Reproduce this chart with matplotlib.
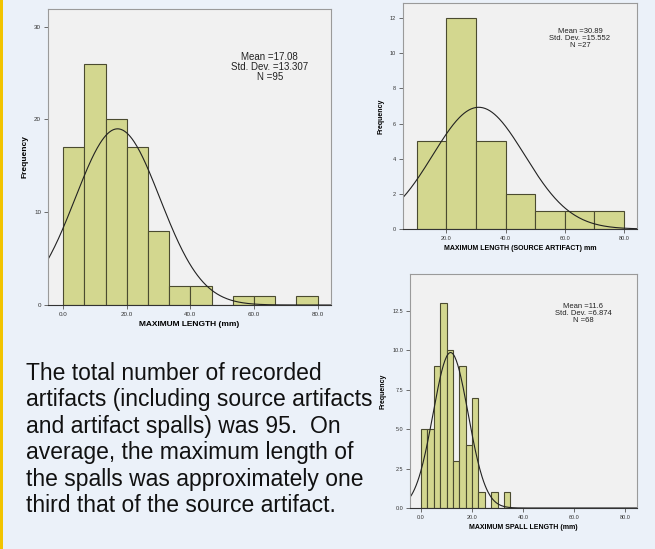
import numpy as np
import matplotlib
matplotlib.use("Agg")
import matplotlib.pyplot as plt
from matplotlib.patches import Rectangle

plt.rcParams['font.family'] = ['Liberation Sans', 'DejaVu Sans']

# --- data ---
# source + spalls, all artifacts
all_counts = [17, 26, 20, 17, 8, 2, 2, 0, 1, 1, 0, 1]
all_start, all_width = 0.0, 20.0 / 3
all_stats = (17.08, 13.307, 95)
all_xticks = [0, 20, 40, 60, 80]
all_xlabels = ["0.0", "20.0", "40.0", "60.0", "80.0"]
all_yticks = [0, 10, 20, 30]
all_ylabels = ["0", "10", "20", "30"]

# source artifacts
src_counts = [5, 12, 5, 2, 1, 1, 1]
src_start, src_width = 10.0, 10.0
src_stats = (30.89, 15.552, 27)
src_xticks = [20, 40, 60, 80]
src_xlabels = ["20.0", "40.0", "60.0", "80.0"]
src_yticks = [0, 2, 4, 6, 8, 10, 12]
src_ylabels = ["0", "2", "4", "6", "8", "10", "12"]

# spalls
spl_counts = [5, 5, 9, 13, 10, 3, 9, 4, 7, 1, 0, 1, 0, 1]
spl_start, spl_width = 0.0, 2.5
spl_stats = (11.6, 6.874, 68)
spl_xticks = [0, 20, 40, 60, 80]
spl_xlabels = ["0.0", "20.0", "40.0", "60.0", "80.0"]
spl_yticks = [0, 2.5, 5, 7.5, 10, 12.5]
spl_ylabels = ["0.0", "2.5", "5.0", "7.5", "10.0", "12.5"]

body_text = ("The total number of recorded\n"
             "artifacts (including source artifacts\n"
             "and artifact spalls) was 95.  On\n"
             "average, the maximum length of\n"
             "the spalls was approximately one\n"
             "third that of the source artifact.")

W, H = 655, 549
fig = plt.figure(figsize=(W / 100, H / 100), dpi=100)
fig.patch.set_facecolor('#ebf1f9')

# gold strip on the left edge of the slide
fig.patches.append(Rectangle((0, 0), 3 / W, 1, transform=fig.transFigure,
                             facecolor='#f2c400', edgecolor='none'))


def px_axes(left, top, right, bottom):
    return fig.add_axes([left / W, 1 - bottom / H, (right - left) / W, (bottom - top) / H])


def histo(ax, counts, start, width, stats, xlim, ylim, xticks, xlabels,
          yticks, ylabels, xlabel, tick_fs, lab_fs, ann_fs, ann_xy):
    ax.set_facecolor('#f1f1f1')
    edges = start + width * np.arange(len(counts))
    ax.bar(edges, counts, width=width, align='edge', color='#d3d78f',
           edgecolor='#4b4b30', linewidth=0.8)
    mean, sd, n = stats
    xs = np.linspace(xlim[0], xlim[1], 300)
    ys = n * width / (sd * np.sqrt(2 * np.pi)) * np.exp(-0.5 * ((xs - mean) / sd) ** 2)
    ax.plot(xs, ys, color='#222222', linewidth=0.8)
    ax.set_xlim(*xlim)
    ax.set_ylim(*ylim)
    ax.set_xticks(xticks)
    ax.set_xticklabels(xlabels, fontsize=tick_fs, color='#333333')
    ax.set_yticks(yticks)
    ax.set_yticklabels(ylabels, fontsize=tick_fs, color='#333333')
    ax.tick_params(length=3, width=0.6, pad=2, color='#555555')
    for s in ax.spines.values():
        s.set_color('#9a9a9a')
        s.set_linewidth(0.8)
    ax.spines['bottom'].set_color('#333333')
    ax.set_xlabel(xlabel, fontsize=lab_fs, fontweight='bold', labelpad=3)
    ax.set_ylabel("Frequency", fontsize=lab_fs, fontweight='bold', labelpad=4)
    ax.text(ann_xy[0], ann_xy[1],
            "Mean =%s\nStd. Dev. =%s\nN =%d" % (str(mean), str(sd), n),
            transform=ax.transAxes, ha='center', va='top', fontsize=ann_fs,
            color='#222222', linespacing=1.0)


ax1 = px_axes(48, 9, 331, 305)
histo(ax1, all_counts, all_start, all_width, all_stats, (-4.8, 84.2), (0, 31.9),
      all_xticks, all_xlabels, all_yticks, all_ylabels, "MAXIMUM LENGTH (mm)",
      4.5, 6, 7, (0.784, 0.855))

ax2 = px_axes(403, 3, 637, 229)
histo(ax2, src_counts, src_start, src_width, src_stats, (5.3, 84.4), (0, 12.86),
      src_xticks, src_xlabels, src_yticks, src_ylabels,
      "MAXIMUM LENGTH (SOURCE ARTIFACT) mm", 4, 5, 5.5, (0.756, 0.89))

ax3 = px_axes(410, 274, 637, 508)
histo(ax3, spl_counts, spl_start, spl_width, spl_stats, (-4.3, 84.6), (0, 14.85),
      spl_xticks, spl_xlabels, spl_yticks, spl_ylabels,
      "MAXIMUM SPALL LENGTH (mm)", 4, 5, 5.5, (0.762, 0.876))

fig.text(26 / W, 1 - 362 / H, body_text, ha='left', va='top', fontsize=16.5,
         color='#111111', linespacing=1.19)

fig.savefig('out.png', dpi=100, facecolor=fig.get_facecolor())
